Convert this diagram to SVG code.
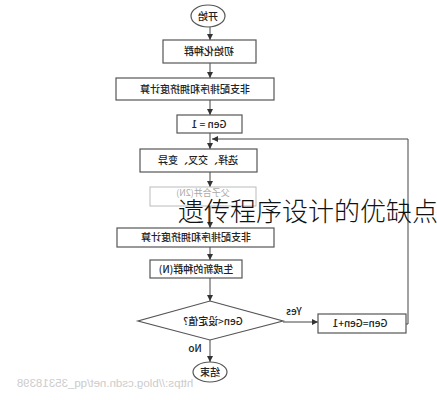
<svg xmlns="http://www.w3.org/2000/svg" width="437" height="400" viewBox="0 0 437 400">
<defs>
<style>
.n{fill:#fff;stroke:#555;stroke-width:1.2}
.f{fill:#fff;stroke:#bbb;stroke-width:1}
.t{font-family:"Noto Sans CJK SC","Liberation Sans",sans-serif;font-size:10px;font-weight:500;fill:#222;text-anchor:middle}
.tf{font-family:"Noto Sans CJK SC","Liberation Sans",sans-serif;font-size:9px;fill:#aaa;text-anchor:middle}
.c{fill:none;stroke:#444;stroke-width:1}
</style>
<marker id="a" viewBox="0 0 8 8" refX="8" refY="4" markerWidth="6" markerHeight="6" orient="auto" markerUnits="userSpaceOnUse">
<path d="M0,0 L8,4 L0,8 Z" fill="#333"/>
</marker>
</defs>
<rect width="437" height="400" fill="#fff"/>
<g id="connectors">
<line class="c" x1="210" y1="27" x2="210" y2="40" marker-end="url(#a)"/>
<line class="c" x1="210" y1="63" x2="210" y2="78" marker-end="url(#a)"/>
<line class="c" x1="210" y1="100" x2="210" y2="115" marker-end="url(#a)"/>
<line class="c" x1="210" y1="133" x2="210" y2="149" marker-end="url(#a)"/>
<line class="c" x1="210" y1="172" x2="210" y2="187" marker-end="url(#a)"/>
<line class="c" x1="210" y1="206" x2="210" y2="228" marker-end="url(#a)"/>
<line class="c" x1="210" y1="247" x2="210" y2="260" marker-end="url(#a)"/>
<line class="c" x1="210" y1="278" x2="210" y2="301" marker-end="url(#a)"/>
<line class="c" x1="210" y1="340" x2="210" y2="362" marker-end="url(#a)"/>
<line class="c" x1="283" y1="322" x2="318" y2="322" marker-end="url(#a)"/>
<path class="c" d="M406,324 H408 V139 H212" marker-end="url(#a)"/>
<text class="t" x="-294" y="315" transform="scale(-1,1)">Yes</text>
<text class="t" x="-195" y="352" transform="scale(-1,1)">No</text>
</g>
<g id="start">
<ellipse class="n" cx="208" cy="16" rx="17" ry="11"/>
<text class="t" x="-208" y="20" transform="scale(-1,1)">开始</text>
</g>
<g id="init">
<rect class="n" x="163" y="40" width="93" height="23"/>
<text class="t" x="-209" y="55" transform="scale(-1,1)">初始化种群</text>
</g>
<g id="sort1">
<rect class="n" x="116" y="78" width="158" height="22"/>
<text class="t" x="-195" y="93" transform="scale(-1,1)">非支配排序和拥挤度计算</text>
</g>
<g id="gen1">
<rect class="n" x="177" y="115" width="65" height="18"/>
<text class="t" x="-209" y="128" transform="scale(-1,1)">Gen = 1</text>
</g>
<g id="select">
<rect class="n" x="140" y="149" width="117" height="23"/>
<text class="t" x="-198" y="164" transform="scale(-1,1)">选择、交叉、变异</text>
</g>
<g id="merge">
<rect class="f" x="150" y="187" width="106" height="19"/>
<text class="tf" x="-203" y="196" transform="scale(-1,1)">父子合并(2N)</text>
</g>
<g id="sort2">
<rect class="n" x="117" y="228" width="157" height="19"/>
<text class="t" x="-196" y="241" transform="scale(-1,1)">非支配排序和拥挤度计算</text>
</g>
<g id="newpop">
<rect class="n" x="150" y="260" width="92" height="18"/>
<text class="t" x="-196" y="273" transform="scale(-1,1)">生成新的种群(N)</text>
</g>
<g id="decision">
<polygon class="n" points="210,301 283,321 210,340 138,321"/>
<text class="t" x="-213" y="325" transform="scale(-1,1)">Gen&lt;设定值?</text>
</g>
<g id="inc">
<rect class="n" x="318" y="314" width="88" height="19"/>
<text class="t" x="-360" y="327" transform="scale(-1,1)">Gen=Gen+1</text>
</g>
<g id="end">
<ellipse class="n" cx="210" cy="372" rx="17" ry="10"/>
<text class="t" x="-210" y="376" transform="scale(-1,1)">结束</text>
</g>
<text x="-105" y="387" transform="scale(-1,1)" font-family="Liberation Sans, sans-serif" font-size="11.5" fill="#ccc" text-anchor="middle">https://blog.csdn.net/qq_35318398</text>
<text x="178" y="221" font-family="Noto Sans CJK SC, sans-serif" font-weight="300" font-size="26" fill="#111">遗传程序设计的优缺点</text>
</svg>
